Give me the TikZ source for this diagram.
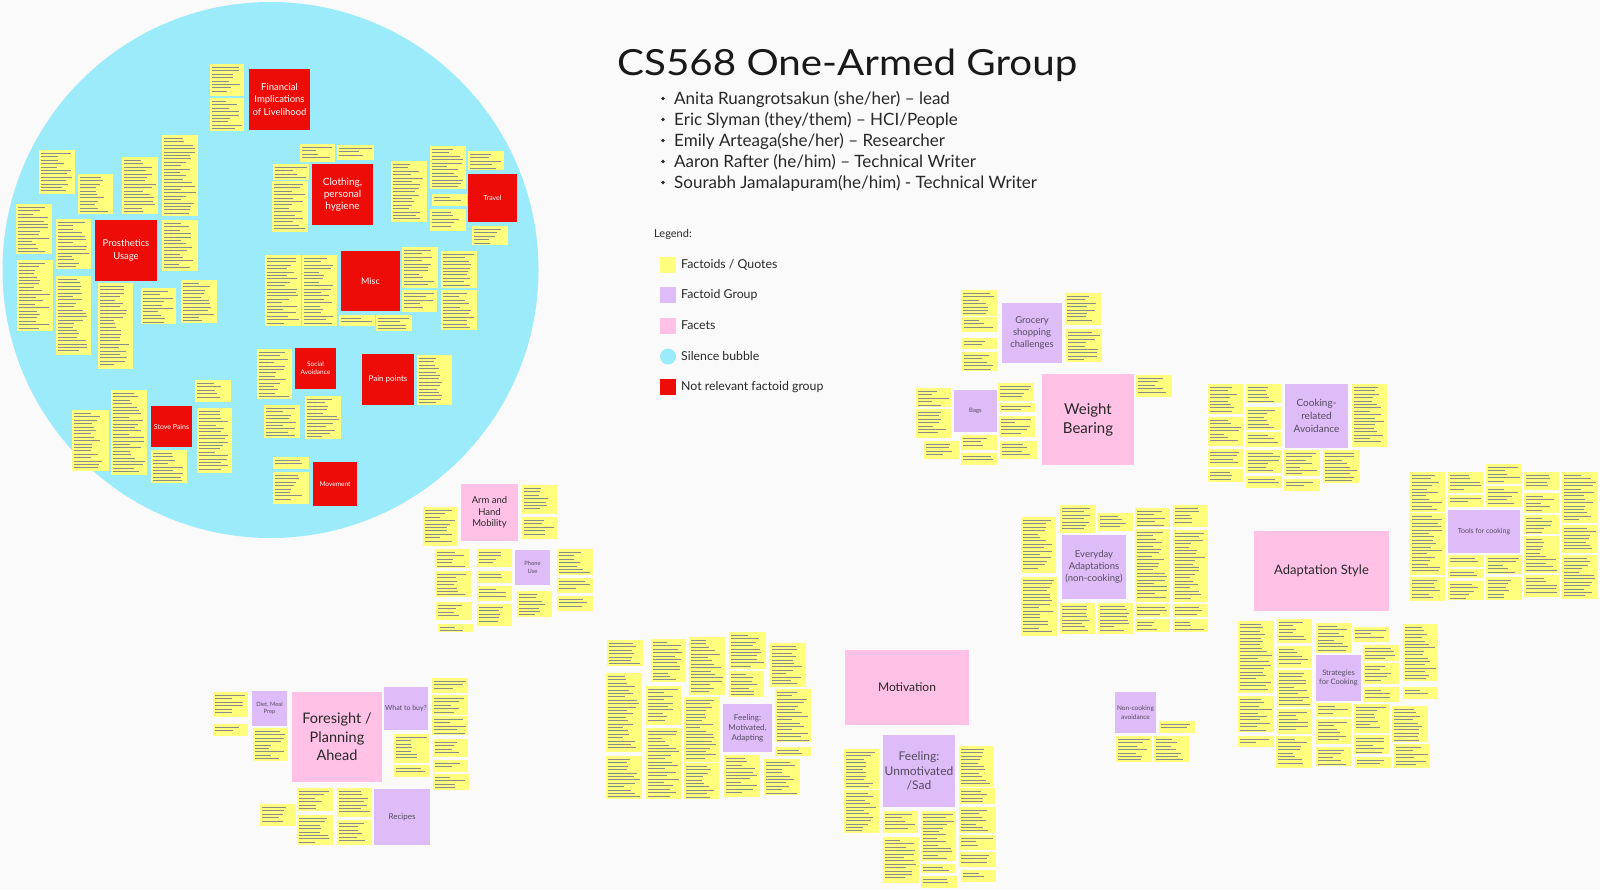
\documentclass[tikz,border=0pt]{standalone}
\usepackage{fontspec}
\setmainfont{Lato}
\definecolor{bg}{RGB}{250,250,250}
\definecolor{bubble}{RGB}{155,235,250}
\definecolor{redc}{RGB}{237,12,8}
\definecolor{pinkc}{RGB}{255,193,230}
\definecolor{purplec}{RGB}{222,188,248}
\definecolor{noteyel}{RGB}{255,255,125}
\definecolor{labtxt}{RGB}{85,75,95}
\definecolor{darktxt}{RGB}{40,40,40}
\tikzset{
  lbox/.style={anchor=north west, inner sep=0pt, outer sep=0pt, align=center},
  redbox/.style={lbox, fill=redc, text=white},
  pinkbox/.style={lbox, fill=pinkc, text=darktxt},
  purplebox/.style={lbox, fill=purplec, text=labtxt},
  txtl/.style={line width=0.45pt, black!45},
  legsq/.style={minimum size=16pt, inner sep=0pt, outer sep=0pt},
  legtxt/.style={anchor=west, inner sep=0pt, font=\fontsize{12.3}{14}\selectfont, text=darktxt},
  bultxt/.style={anchor=base west, inner sep=0pt, font=\fontsize{17}{20}\selectfont, text=darktxt},
}
\newcommand\stk[4]{%
  \fill[noteyel] (#1,#2) rectangle (#3,#4);
  \pgfmathsetmacro\sya{#2+3.2}%
  \pgfmathsetmacro\syn{#2+6.6}%
  \pgfmathsetmacro\syb{#4-2}%
  \foreach \yy in {\sya,\syn,...,\syb}{%
    \pgfmathsetmacro\sxe{#1+2+(#3-#1-4)*(0.45+0.55*rnd)}%
    \draw[txtl] (#1+2,\yy) -- (\sxe,\yy);}%
}
\newcommand\bx[8]{\node[#2, minimum width=#5pt-#3pt, minimum height=#6pt-#4pt, font=#7] (#1) at (#3,#4) {#8};}
\newcommand\notes[1]{\foreach \a/\b/\c/\d in {#1}{\stk{\a}{\b}{\c}{\d}}}
\begin{document}
\begin{tikzpicture}[x=1pt,y=-1pt]
\pgfmathsetseed{7}
\useasboundingbox (0,0) rectangle (1600,889);
\fill[bg] (0,0) rectangle (1600,889);
% silence bubble
\fill[bubble] (270.5,270) circle[radius=268];

% ---------- notes inside bubble ----------
\notes{39/150/75/194, 78/174/113/214, 122/157/158/214, 162/135/198/216, 16/204/52/254, 56/219/91/269, 162/220/198/271, 17/260/53/331, 56/276/91/355, 98/283/133/369, 141/288/176/324, 181/280/217/323,
210/64/244/96, 210/98/244/131,
300/144/335/162, 337/145/374/160, 273/164/309/180, 272/181/308/232,
391/161/427/222, 430/146/466/189, 468/151/504/170, 432/194/467/206, 430/209/466/231, 472/226/508/245,
265/255/301/326, 302/255/337/326, 339/315/375/326, 376/315/412/331, 402/247/438/288, 441/251/477/288, 402/290/437/312, 441/290/477/330,
257/349/292/399, 264/405/300/438, 305/396/341/439, 417/355/452/405,
72/410/109/471, 111/390/147/475, 195/380/231/402, 197/408/232/473, 151/450/187/483,
273/457/309/469, 273/472/309/504}

\bx{fin}{redbox}{249}{69}{310}{130}{\fontsize{9.5}{12.4}\selectfont}{Financial\\Implications\\of Livelihood}
\bx{clo}{redbox}{312}{164}{373}{225}{\fontsize{10}{12.2}\selectfont}{Clothing,\\personal\\hygiene}
\bx{trav}{redbox}{468}{174}{517}{222}{\fontsize{7}{9}\selectfont}{Travel}
\bx{pros}{redbox}{95}{220}{157}{281}{\fontsize{9.5}{12.4}\selectfont}{Prosthetics\\Usage}
\bx{misc}{redbox}{341}{251}{400}{311}{\fontsize{9}{11}\selectfont}{Misc}
\bx{soc}{redbox}{295}{348}{336}{389}{\fontsize{6.5}{8}\selectfont}{Social\\Avoidance}
\bx{pain}{redbox}{362}{354}{414}{405}{\fontsize{8}{10}\selectfont}{Pain points}
\bx{stove}{redbox}{151}{406}{192}{447}{\fontsize{7}{9}\selectfont}{Stove Pains}
\bx{move}{redbox}{313}{462}{357}{506}{\fontsize{6.5}{8}\selectfont}{Movement}

% ---------- title ----------
\node[anchor=base west, inner sep=0pt, font=\fontsize{36}{40}\selectfont, text=black!90] (title) at (617,75) {\scalebox{1.12}[1]{CS568 One-Armed Group}};
\foreach \t [count=\i from 0] in {Anita Ruangrotsakun (she/her) -- lead, Eric Slyman (they/them) -- HCI/People, Emily Arteaga(she/her) -- Researcher, Aaron Rafter (he/him) -- Technical Writer, Sourabh Jamalapuram(he/him) - Technical Writer}{
  \node[bultxt] (mem\i) at (674,104+21*\i) {\t};
  \fill[darktxt] (663,98.5+21*\i) circle[radius=1.9];
}

% ---------- legend ----------
\node[anchor=base west, inner sep=0pt, font=\fontsize{11}{13}\selectfont, text=darktxt] (legend) at (654,237) {Legend:};
\node[legsq, fill=noteyel] (lg1) at (668,264.5) {};
\node[legsq, fill=purplec] (lg2) at (668,295) {};
\node[legsq, fill=pinkc] (lg3) at (668,325.5) {};
\node[circle, minimum size=16pt, inner sep=0pt, fill=bubble] (lg4) at (668,356.5) {};
\node[legsq, fill=redc] (lg5) at (668,387) {};
\node[legtxt] (lt1) at (681,264.5) {Factoids / Quotes};
\node[legtxt] (lt2) at (681,295) {Factoid Group};
\node[legtxt] (lt3) at (681,325.5) {Facets};
\node[legtxt] (lt4) at (681,356.5) {Silence bubble};
\node[legtxt] (lt5) at (681,387) {Not relevant factoid group};

% ---------- arm and hand mobility ----------
\notes{423/507/458/546, 522/485/557/514, 522/517/557/539, 435/549/469/568, 435/571/471/597, 436/602/472/620, 438/624/473/632, 477/549/512/567, 477/571/512/583, 477/586/512/601, 477/604/512/626, 517/591/552/617, 557/549/593/575, 557/578/593/593, 557/596/593/611}
\bx{arm}{pinkbox}{461}{484}{518}{541}{\fontsize{9.5}{11.3}\selectfont}{Arm and\\Hand\\Mobility}
\bx{phone}{purplebox}{515}{550}{550}{585}{\fontsize{5.8}{7.3}\selectfont}{Phone\\Use}

% ---------- foresight ----------
\notes{213/692/248/717, 213/724/248/736, 253/728/288/761, 432/678/468/693, 432/695/468/715, 432/716/468/735, 433/739/468/757, 433/760/468/772, 433/774/469/790, 394/734/429/763, 394/765/429/777, 260/804/296/826, 297/788/333/811, 297/815/333/845, 337/788/372/817, 337/820/372/845}
\bx{fore}{pinkbox}{292}{692}{382}{782}{\fontsize{14.5}{18.3}\selectfont}{Foresight /\\Planning\\Ahead}
\bx{diet}{purplebox}{252}{691}{287}{726}{\fontsize{5.8}{7.3}\selectfont}{Diet, Meal\\Prep}
\bx{what}{purplebox}{384}{687}{428}{730}{\fontsize{7}{9}\selectfont}{What to buy?}
\bx{recipes}{purplebox}{374}{789}{430}{845}{\fontsize{8}{10}\selectfont}{Recipes}

% ---------- feeling motivated ----------
\notes{607/640/643/666, 606/673/642/752, 606/756/642/799, 651/639/686/682, 646/686/681/725, 646/728/681/799, 689/637/725/695, 684/697/719/762, 684/763/719/799, 729/632/766/669, 729/671/764/697, 770/643/806/687, 775/689/811/742, 775/747/811/756, 724/755/760/797, 764/759/800/795}
\bx{featm}{purplebox}{723}{704}{772}{752}{\fontsize{8}{10}\selectfont}{Feeling:\\Motivated,\\Adapting}

% ---------- motivation ----------
\bx{motiv}{pinkbox}{845}{650}{969}{725}{\fontsize{12}{14}\selectfont}{Motivation}
\notes{844/749/879/789, 844/790/879/833, 883/811/918/833, 883/837/919/883, 921/811/956/861, 921/864/956/873, 921/876/957/888, 959/746/994/787, 959/788/995/804, 959/807/996/833, 959/835/996/850, 959/852/996/867, 961/870/996/882}
\bx{unmot}{purplebox}{883}{735}{955}{807}{\fontsize{12}{14.5}\selectfont}{Feeling:\\Unmotivated\\/Sad}

% ---------- non-cooking avoidance ----------
\notes{1159/721/1195/733, 1116/736/1152/762, 1154/736/1189/762}
\bx{noncook}{purplebox}{1115}{692}{1156}{733}{\fontsize{6.5}{8.3}\selectfont}{Non-cooking\\avoidance}

% ---------- weight bearing ----------
\notes{961/290/997/316, 962/317/997/332, 962/338/997/349, 962/352/998/371, 1065/293/1101/325, 1066/329/1102/362, 1136/375/1172/397,
916/388/951/407, 916/409/951/438, 924/441/959/459, 961/435/997/450, 961/453/997/465, 998/383/1034/401, 999/403/1035/412, 999/416/1035/437, 1000/441/1037/459}
\bx{groc}{purplebox}{1002}{303}{1062}{363}{\fontsize{9.5}{12.2}\selectfont}{Grocery\\shopping\\challenges}
\bx{weight}{pinkbox}{1042}{374}{1134}{465}{\fontsize{15}{18.7}\selectfont}{Weight\\Bearing}
\bx{bags}{purplebox}{954}{390}{997}{432}{\fontsize{6}{7}\selectfont}{Bags}

% ---------- cooking-related avoidance ----------
\notes{1208/384/1243/414, 1208/417/1243/446, 1208/449/1243/467, 1208/469/1243/482, 1246/384/1282/403, 1246/407/1282/430, 1246/432/1282/447, 1246/450/1282/473, 1246/476/1282/488, 1284/450/1320/476, 1284/479/1320/491, 1323/450/1359/483, 1352/384/1387/447}
\bx{cookav}{purplebox}{1285}{384}{1348}{448}{\fontsize{10}{12.7}\selectfont}{Cooking-\\related\\Avoidance}

% ---------- everyday adaptations ----------
\notes{1021/517/1056/573, 1021/577/1057/636, 1060/505/1095/533, 1098/513/1133/531, 1135/508/1170/527, 1135/529/1170/602, 1135/604/1170/617, 1135/619/1170/632, 1173/505/1208/527, 1173/530/1208/602, 1173/604/1208/617, 1173/619/1208/632, 1060/603/1095/634, 1098/603/1133/634}
\bx{every}{purplebox}{1062}{535}{1126}{599}{\fontsize{9.5}{12}\selectfont}{Everyday\\Adaptations\\(non-cooking)}

% ---------- adaptation style ----------
\bx{adapt}{pinkbox}{1254}{531}{1389}{611}{\fontsize{13}{15}\selectfont}{Adaptation Style}
\notes{1410/472/1445/512, 1410/513/1445/575, 1410/577/1445/601, 1448/472/1483/493, 1448/495/1483/507, 1448/555/1484/567, 1448/569/1484/578, 1448/581/1484/600, 1486/464/1522/484, 1486/486/1522/507, 1486/555/1522/574, 1486/577/1522/600, 1524/472/1559/490, 1524/493/1559/513, 1524/515/1559/534, 1524/536/1559/573, 1524/575/1559/597, 1562/472/1598/523, 1562/525/1598/553, 1562/555/1598/599}
\bx{tools}{purplebox}{1448}{510}{1520}{553}{\fontsize{7}{9}\selectfont}{Tools for cooking}
\notes{1238/621/1274/693, 1238/696/1274/732, 1238/736/1274/747, 1277/619/1312/643, 1277/646/1312/668, 1277/670/1312/707, 1277/709/1312/734, 1276/736/1312/768, 1316/623/1351/653, 1316/703/1351/717, 1316/719/1351/744, 1316/747/1351/766, 1353/627/1389/642, 1363/645/1399/661, 1363/663/1399/684, 1363/687/1399/702, 1354/704/1389/733, 1354/735/1389/754, 1355/757/1391/768, 1403/624/1438/681, 1403/687/1438/699, 1392/706/1428/742, 1394/744/1430/768}
\bx{strat}{purplebox}{1316}{655}{1361}{701}{\fontsize{7.5}{9}\selectfont}{Strategies\\for Cooking}
\end{tikzpicture}
\end{document}
